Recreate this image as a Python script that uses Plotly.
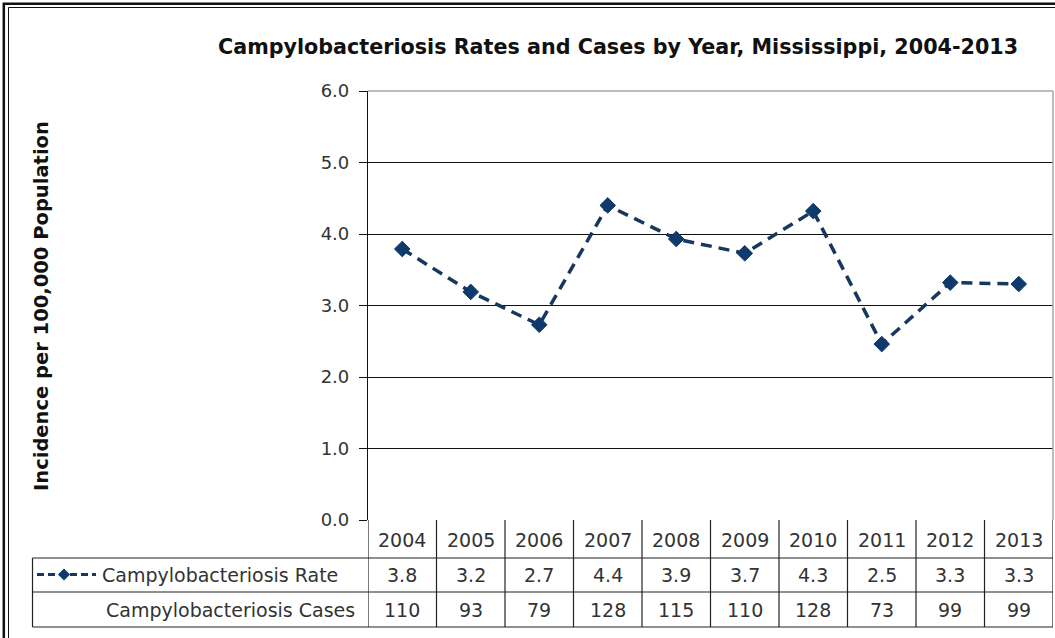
import plotly.graph_objects as go

years = ["2004", "2005", "2006", "2007", "2008", "2009", "2010", "2011", "2012", "2013"]
rates = [3.79, 3.19, 2.73, 4.40, 3.93, 3.73, 4.32, 2.46, 3.32, 3.30]
cases = [110, 93, 79, 128, 115, 110, 128, 73, 99, 99]
y_ticks = [0, 1, 2, 3, 4, 5, 6]
title_text = "Campylobacteriosis Rates and Cases by Year, Mississippi, 2004-2013"
y_title = "Incidence per 100,000 Population"
rate_label = "Campylobacteriosis Rate"
cases_label = "Campylobacteriosis Cases"

W_FIG, H_FIG = 1055, 638
L, R, T, B = 368, 1053, 91, 520
PW, PH = R - L, B - T

def px(X):
    return (X - L) / PW

def py(Y):
    return (B - Y) / PH

LINE_COL = "#17375E"
MARK_COL = "#0E3A6C"
TXT_FONT = "DejaVu Sans"
TXT_COL = "#333333"

fig = go.Figure()
fig.add_trace(go.Scatter(
    x=list(range(len(years))), y=rates, mode="lines+markers",
    name=rate_label,
    line=dict(color=LINE_COL, width=3.5, dash="11px,7px"),
    marker=dict(symbol="diamond", size=12, color=MARK_COL,
                line=dict(color=MARK_COL, width=1)),
    showlegend=False, cliponaxis=False,
))

shapes = []
ann = []

# outer double frame
shapes.append(dict(type="rect", xref="paper", yref="paper",
                   x0=px(3.8), x1=px(1080), y0=py(3.8), y1=py(680),
                   line=dict(color="#111", width=2.5)))
shapes.append(dict(type="rect", xref="paper", yref="paper",
                   x0=px(8.5), x1=px(1080), y0=py(7.5), y1=py(680),
                   line=dict(color="#111", width=1)))

# plot border (gray top and right)
shapes.append(dict(type="line", xref="paper", yref="paper",
                   x0=0, x1=1, y0=1, y1=1, layer="above",
                   line=dict(color="#A6A6A6", width=1.5)))
shapes.append(dict(type="line", xref="paper", yref="paper",
                   x0=1, x1=1, y0=0, y1=1, layer="above",
                   line=dict(color="#A6A6A6", width=1.5)))

# data table
row_hdr_bot = 558
row_rate_bot = 592
row_cases_bot = 627
tbl_left = 32.5
n = len(years)
for Y in (row_hdr_bot, row_rate_bot, row_cases_bot):
    shapes.append(dict(type="line", xref="paper", yref="paper",
                       x0=px(tbl_left), x1=1, y0=py(Y), y1=py(Y),
                       line=dict(color="#222", width=1.2)))
shapes.append(dict(type="line", xref="paper", yref="paper",
                   x0=px(tbl_left), x1=px(tbl_left), y0=py(row_hdr_bot), y1=py(row_cases_bot),
                   line=dict(color="#222", width=1.2)))
for i in range(n + 1):
    shapes.append(dict(type="line", xref="x", yref="paper",
                       x0=i - 0.5, x1=i - 0.5, y0=0, y1=py(row_cases_bot),
                       line=dict(color="#222", width=1.2)))

num_font = dict(family=TXT_FONT, size=19, color=TXT_COL)
lab_font = dict(family=TXT_FONT, size=19, color=TXT_COL)
for i, yr in enumerate(years):
    ann.append(dict(x=i, xref="x", y=py(540), yref="paper", text=yr,
                    showarrow=False, font=num_font, xanchor="center", yanchor="middle"))
    ann.append(dict(x=i, xref="x", y=py(575), yref="paper", text=f"{rates[i]:.1f}",
                    showarrow=False, font=num_font, xanchor="center", yanchor="middle"))
    ann.append(dict(x=i, xref="x", y=py(610), yref="paper", text=str(cases[i]),
                    showarrow=False, font=num_font, xanchor="center", yanchor="middle"))

# legend key in table
shapes.append(dict(type="line", xref="paper", yref="paper",
                   x0=px(37), x1=px(96), y0=py(574.5), y1=py(574.5),
                   line=dict(color=LINE_COL, width=3, dash="7px,4px")))
dx, dy = 6, 6
cx, cy = 64, 574.5
shapes.append(dict(type="path", xref="paper", yref="paper",
                   path=(f"M {px(cx-dx)} {py(cy)} L {px(cx)} {py(cy-dy)} "
                         f"L {px(cx+dx)} {py(cy)} L {px(cx)} {py(cy+dy)} Z"),
                   fillcolor=MARK_COL, line=dict(width=0)))
ann.append(dict(x=px(100), xref="paper", y=py(575), yref="paper", text=rate_label,
                showarrow=False, font=lab_font, xanchor="left", yanchor="middle"))
ann.append(dict(x=px(357), xref="paper", y=py(610), yref="paper", text=cases_label,
                showarrow=False, font=lab_font, xanchor="right", yanchor="middle"))

# title
ann.append(dict(x=px(617.5), xref="paper", y=py(47), yref="paper", text=f"<b>{title_text}</b>",
                showarrow=False, font=dict(family=TXT_FONT, size=20.7, color="#111"),
                xanchor="center", yanchor="middle"))
# y title
ann.append(dict(x=px(41), xref="paper", y=py(306), yref="paper", text=f"<b>{y_title}</b>",
                showarrow=False, textangle=-90, font=dict(family=TXT_FONT, size=19.5, color="#111"),
                xanchor="center", yanchor="middle"))

fig.update_layout(
    width=W_FIG, height=H_FIG,
    margin=dict(l=L, r=W_FIG - R, t=T, b=H_FIG - B, pad=0),
    paper_bgcolor="white", plot_bgcolor="white",
    showlegend=False,
    shapes=shapes, annotations=ann,
    xaxis=dict(range=[-0.5, n - 0.5], showticklabels=False, showgrid=False, zeroline=False,
               showline=False, ticks="", fixedrange=True),
    yaxis=dict(range=[0, 6], tickvals=y_ticks, ticktext=[f"{v:.1f}" for v in y_ticks],
               showgrid=True, gridcolor="#111", gridwidth=1, zeroline=False,
               showline=True, linecolor="#111", linewidth=1.2,
               ticks="outside", ticklen=8, tickcolor="#111", tickwidth=1,
               ticklabelstandoff=6,
               tickfont=dict(family=TXT_FONT, size=18, color=TXT_COL), fixedrange=True),
)

fig.write_html("out.html",
               config={"displayModeBar": False},
               post_script="document.body.style.margin='0';document.body.style.overflow='hidden';")
